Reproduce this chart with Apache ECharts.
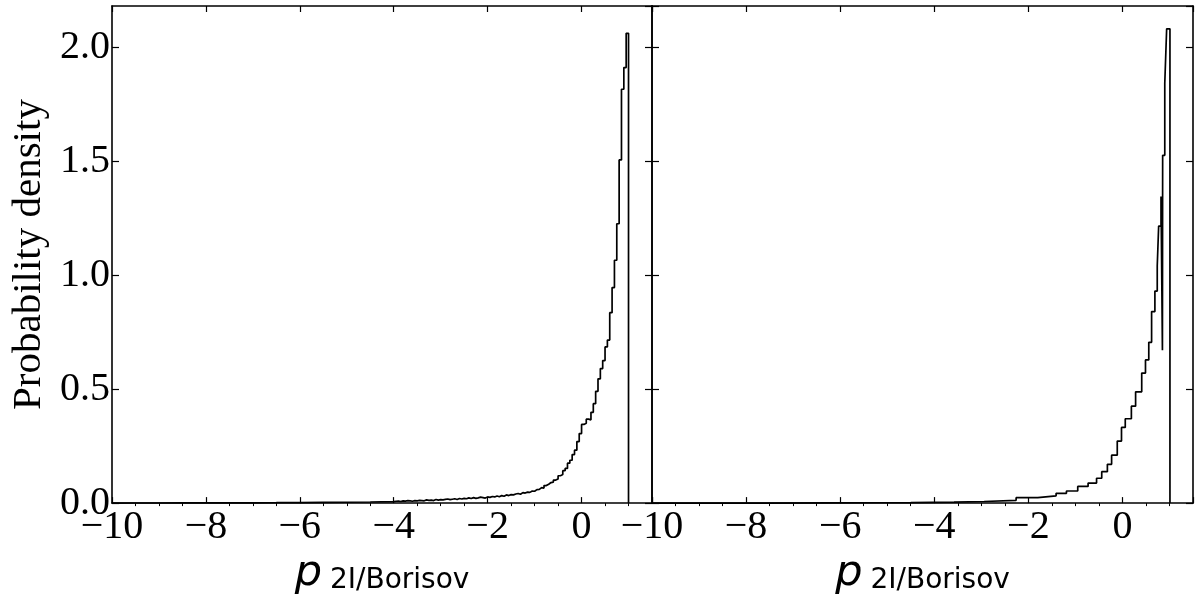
<!DOCTYPE html>
<html><head><meta charset="utf-8">
<script src="https://cdn.jsdelivr.net/npm/echarts@6/dist/echarts.min.js"></script>
<style>html,body{margin:0;padding:0;background:#fff}#c{width:1200px;height:600px}</style>
</head><body><div id="c"></div>
<script>
// ---- data ----
const xTickLabels = [-10, -8, -6, -4, -2, 0];
const yTickLabels = [0.0, 0.5, 1.0, 1.5, 2.0];

// left panel: histogram (fine bins)
const leftTailEdges = [-10, -9.5, -9, -8.5, -8, -7.5, -7, -6.5, -6, -5.5, -5, -4.5, -4];
const leftTailHeights = [0.0004, 0.0005, 0.0007, 0.0009, 0.001, 0.0014, 0.0018, 0.0024, 0.003, 0.0038, 0.0048, 0.0062];
const leftCoreStart = -4.0;
const leftCoreBinWidth = 0.05;
const leftCoreHeights = [
  0.008, 0.009, 0.007, 0.010, 0.009, 0.011, 0.010, 0.008, 0.011, 0.010,
  0.012, 0.011, 0.010, 0.014, 0.012, 0.013, 0.011, 0.016, 0.013, 0.015,
  0.014, 0.016, 0.018, 0.015, 0.017, 0.019, 0.016, 0.020, 0.018, 0.021,
  0.019, 0.023, 0.020, 0.024, 0.021, 0.023, 0.026, 0.024, 0.022, 0.027,
  0.025, 0.029, 0.027, 0.031, 0.028, 0.033, 0.030, 0.036, 0.033, 0.037,
  0.036, 0.040, 0.042, 0.039, 0.046, 0.044, 0.048, 0.047, 0.053, 0.052,
  0.059, 0.060, 0.068, 0.066, 0.077, 0.083, 0.090, 0.092, 0.101, 0.106,
  0.120, 0.125, 0.142, 0.152, 0.175, 0.188, 0.213, 0.232, 0.270, 0.305,
  0.345, 0.350, 0.368, 0.365, 0.398, 0.436, 0.490, 0.545, 0.590, 0.625,
  0.685, 0.715, 0.835, 0.945, 1.065, 1.225, 1.505, 1.815, 1.910, 2.060
];

// right panel: histogram (variable bins)
const rightEdges = [-10, -7.6, -6.2, -5.14, -4.5, -3.58, -2.94, -2.26, -1.8, -1.41,
  -1.19, -0.95, -0.73, -0.55, -0.44, -0.32, -0.23, -0.11, -0.02, 0.06,
  0.19, 0.28, 0.41, 0.49, 0.56, 0.62, 0.69, 0.74, 0.77, 0.82,
  0.85, 0.855, 0.90, 0.94, 1.01];
const rightHeights = [0.0003, 0.0008, 0.0015, 0.002, 0.004, 0.007, 0.012, 0.024, 0.032, 0.043,
  0.053, 0.073, 0.088, 0.109, 0.138, 0.170, 0.210, 0.272, 0.332, 0.370,
  0.425, 0.488, 0.570, 0.628, 0.705, 0.840, 0.930, 1.040, 1.215, 1.345,
  0.670, 1.525, 1.840, 2.080];

// ---- build ----
const leftEdges = leftTailEdges.slice();
for (let i = 1; i <= leftCoreHeights.length; i++) leftEdges.push(+(leftCoreStart + i * leftCoreBinWidth).toFixed(4));
const leftHeights = leftTailHeights.concat(leftCoreHeights);

function stepPoints(edges, heights) {
  const pts = [[edges[0], 0]];
  for (let i = 0; i < heights.length; i++) {
    pts.push([edges[i], heights[i]]);
    pts.push([edges[i + 1], heights[i]]);
  }
  pts.push([edges[edges.length - 1], 0]);
  return pts;
}

const X_MIN = -10, X_MAX = 1.5, Y_MIN = 0, Y_MAX = 2.18;
const serif = 'Liberation Serif';
const fmtX = v => (v < 0 ? '\u2212' + Math.abs(v) : String(v));
const fmtY = v => v.toFixed(1);

function xAx(gridIndex, pos, labels) {
  return {
    type: 'value', gridIndex, position: pos, min: X_MIN, max: X_MAX, interval: 2,
    axisLine: { show: true, onZero: false, lineStyle: { color: '#000', width: 1.6 } },
    axisTick: { show: true, inside: true, length: 6, lineStyle: { color: '#000', width: 1.2 } },
    minorTick: { show: labels, splitNumber: 4, length: -3, lineStyle: { color: '#000', width: 1 } },
    splitLine: { show: false },
    axisLabel: labels ? {
      show: true, showMaxLabel: false, formatter: fmtX, margin: 4,
      fontFamily: serif, fontSize: 40, color: '#000'
    } : { show: false },
    name: labels ? '{p|p}{s|2I/Borisov}' : '',
    nameLocation: 'middle', nameGap: 43,
    nameTextStyle: {
      rich: {
        p: { fontFamily: 'DejaVu Sans', fontStyle: 'italic', fontSize: 43, color: '#000' },
        s: { fontFamily: 'DejaVu Sans', fontSize: 28, color: '#000', padding: [14, 0, 0, 8] }
      }
    }
  };
}
function yAx(gridIndex, pos, labels, name) {
  return {
    type: 'value', gridIndex, position: pos, min: Y_MIN, max: Y_MAX, interval: 0.5,
    axisLine: { show: true, onZero: false, lineStyle: { color: '#000', width: 1.6 } },
    axisTick: { show: true, inside: true, length: 7, lineStyle: { color: '#000', width: 1.2 } },
    splitLine: { show: false },
    axisLabel: labels ? {
      show: true, showMaxLabel: false, formatter: fmtY, margin: 2,
      fontFamily: serif, fontSize: 40, color: '#000'
    } : { show: false },
    name: name || '',
    nameLocation: 'middle', nameGap: 62, nameRotate: 90,
    nameTextStyle: { fontFamily: serif, fontSize: 41, color: '#000' }
  };
}

const chart = echarts.init(document.getElementById('c'), null, { renderer: 'canvas' });
chart.setOption({
  animation: false,
  backgroundColor: '#fff',
  grid: [
    { left: 112, right: 548, top: 6, bottom: 88 },
    { left: 652, right: 7, top: 6, bottom: 88 }
  ],
  xAxis: [xAx(0, 'bottom', true), xAx(0, 'top', false), xAx(1, 'bottom', true), xAx(1, 'top', false)],
  yAxis: [yAx(0, 'left', true, 'Probability density'), yAx(0, 'right', false), yAx(1, 'left', false), yAx(1, 'right', false)],
  series: [
    { type: 'line', xAxisIndex: 0, yAxisIndex: 0, data: stepPoints(leftEdges, leftHeights),
      showSymbol: false, lineStyle: { color: '#000', width: 1.7 }, z: 3 },
    { type: 'line', xAxisIndex: 2, yAxisIndex: 2, data: stepPoints(rightEdges, rightHeights),
      showSymbol: false, lineStyle: { color: '#000', width: 1.7 }, z: 3 }
  ]
});
</script></body></html>
